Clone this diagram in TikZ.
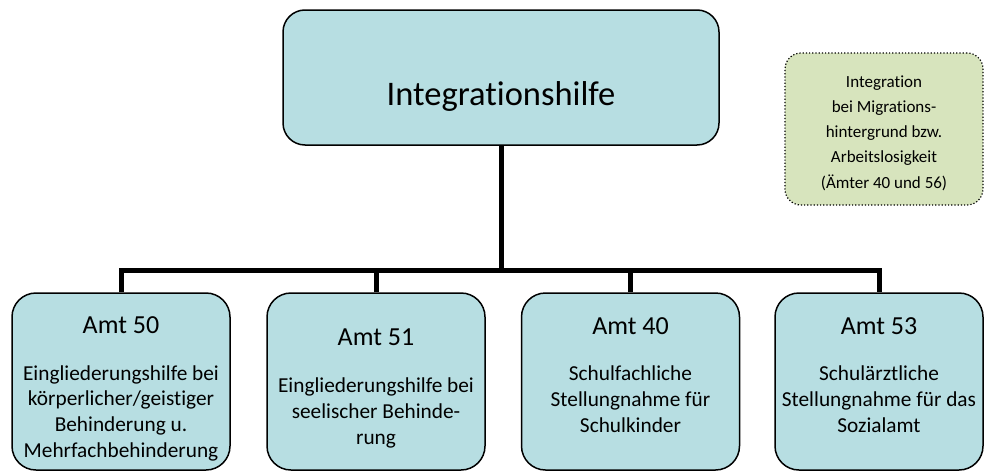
\documentclass[tikz,border=0pt]{standalone}
\usepackage{fontspec}
\setmainfont{Carlito}[Ligatures={NoCommon}]
\definecolor{boxcyan}{RGB}{183,222,226}
\definecolor{boxgreen}{RGB}{215,228,189}
\begin{document}
\begin{tikzpicture}[x=1pt,y=-1pt,
  mainbox/.style={draw=black,line width=1.5pt,fill=boxcyan,rounded corners=22pt,minimum width=436pt,minimum height=135pt,inner sep=0pt},
  amtbox/.style={draw=black,line width=1.5pt,fill=boxcyan,rounded corners=24pt,minimum width=218pt,minimum height=177pt,inner sep=0pt},
  notebox/.style={draw=black,line width=1.2pt,dotted,fill=boxgreen,rounded corners=16pt,minimum width=198pt,minimum height=152pt,inner sep=0pt},
  title/.style={font=\fontsize{26}{30}\selectfont,inner sep=0pt},
  body/.style={font=\fontsize{21.3}{25.7}\selectfont,align=center,inner sep=0pt},
  note/.style={font=\fontsize{17}{25.3}\selectfont,align=center,inner sep=0pt},
  conn/.style={line width=5pt}]
\useasboundingbox (0,0) rectangle (984,471);
\node[mainbox] (main) at (501,77.5) {};
\node[font=\fontsize{34.5}{40}\selectfont,inner sep=0pt] (maintext) at (501,96) {Integrationshilfe};
\node[notebox] (note) at (884,129) {};
\node[note] (notetext) at (884,133) {Integration\\bei Migrations-\\hintergrund bzw.\\Arbeitslosigkeit\\(Ämter 40 und 56)};
\node[amtbox] (b1) at (121,381.5) {};
\node[amtbox] (b2) at (376,381.5) {};
\node[amtbox] (b3) at (630.5,381.5) {};
\node[amtbox,minimum width=208pt] (b4) at (879,381.5) {};
\node[title] (t1) at (121,325) {Amt 50};
\node[body] (d1) at (121,413) {Eingliederungshilfe bei\\körperlicher/geistiger\\Behinderung u.\\Mehrfachbehinderung};
\node[title] (t2) at (376,337) {Amt 51};
\node[body] (d2) at (376,413) {Eingliederungshilfe bei\\seelischer Behinde-\\rung};
\node[title] (t3) at (630.5,326) {Amt 40};
\node[body] (d3) at (630.5,399) {Schulfachliche\\Stellungnahme für\\Schulkinder};
\node[title] (t4) at (879,326) {Amt 53};
\node[body] (d4) at (879,399) {Schulärztliche\\Stellungnahme für das\\Sozialamt};
\coordinate (j) at (501,270);
\draw[conn] (main.south) -- (j);
\draw[conn] (b1.north) -- (b1.north |- j) -- (b4.north |- j) -- (b4.north);
\draw[conn] (b2.north) -- (b2.north |- j);
\draw[conn] (b3.north) -- (b3.north |- j);
\end{tikzpicture}
\end{document}
